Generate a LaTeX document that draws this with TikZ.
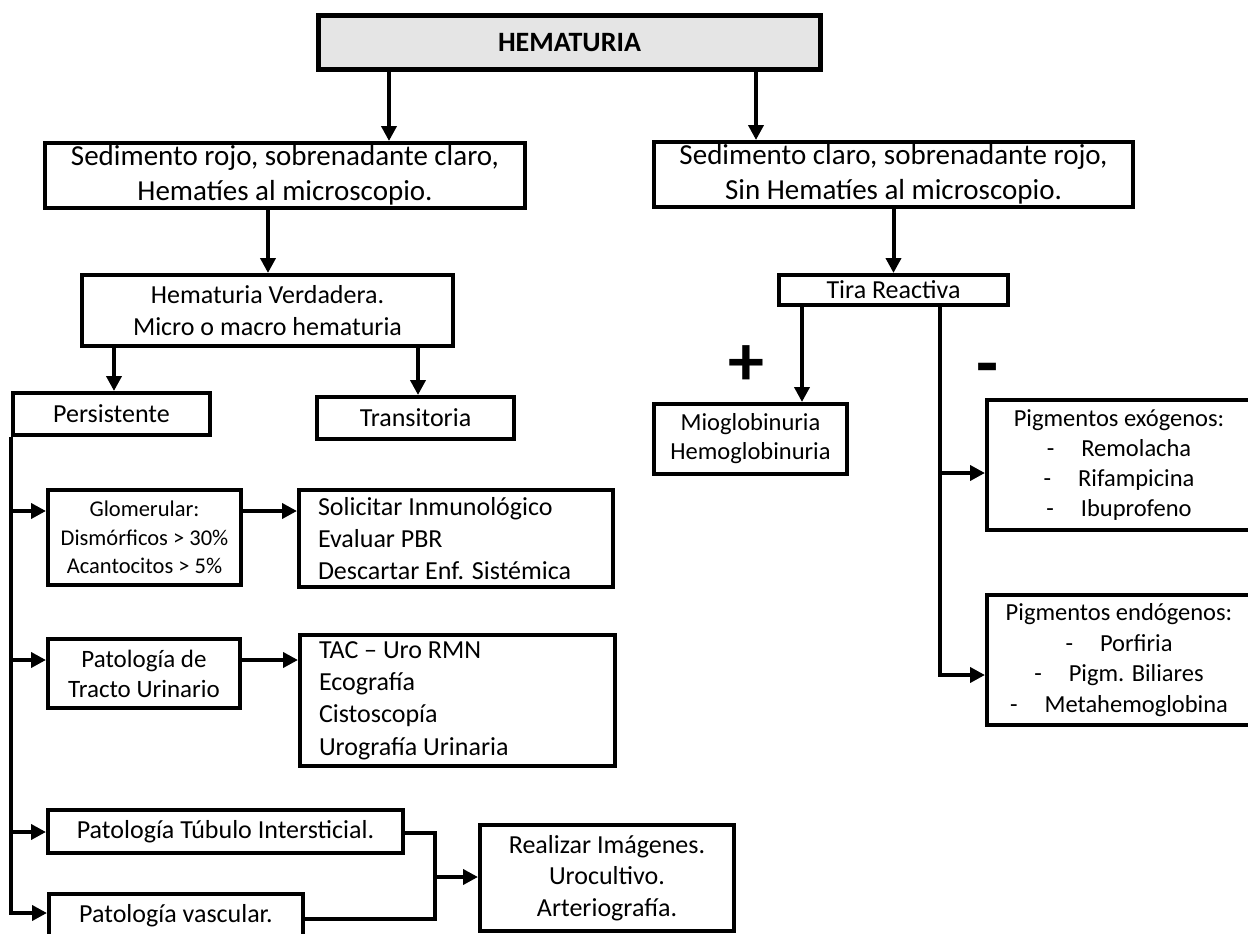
\documentclass[tikz,border=0pt]{standalone}
\usepackage{fontspec}
\setmainfont{Carlito}
\usetikzlibrary{arrows.meta}

\begin{document}
\begin{tikzpicture}[x=1pt,y=-1pt,
  box/.style={draw, line width=4pt, inner sep=0pt, align=center,
              font=\fontsize{26}{31.5}\selectfont},
  bigtxt/.style={font=\fontsize{29}{35}\selectfont},
  conn/.style={line width=4pt},
  arr/.style={line width=4pt, -{Triangle[length=15pt,width=15pt]}},
  sign/.style={font=\bfseries\fontsize{72}{72}\selectfont, inner sep=0pt}
]
\useasboundingbox (0,0) rectangle (1248,934);

% title
\node[box, fill=black!10, line width=5pt, font=\bfseries\fontsize{28}{32}\selectfont,
      minimum width=502pt, minimum height=54pt] (hem) at (569.5,42.5) {HEMATURIA};

% first level
\node[box, bigtxt, minimum width=480pt, minimum height=65pt] (sedr) at (285,175.5)
  {Sedimento rojo, sobrenadante claro,\\Hematíes al microscopio.};
\node[box, bigtxt, minimum width=479pt, minimum height=65pt] (sedc) at (893.5,174.5)
  {Sedimento claro, sobrenadante rojo,\\Sin Hematíes al microscopio.};

% left branch
\node[box, minimum width=371pt, minimum height=71pt] (hv) at (267.5,310.5)
  {Hematuria Verdadera.\\Micro o macro hematuria};
\node[box, minimum width=197pt, minimum height=42pt] (pers) at (111.5,414) {Persistente};
\node[box, minimum width=197pt, minimum height=42pt] (trans) at (415.5,418) {Transitoria};

\node[box, font=\fontsize{22.5}{28.5}\selectfont, minimum width=193pt, minimum height=95pt]
  (glom) at (144.5,537.5) {Glomerular:\\Dismórficos > 30\%\\Acantocitos > 5\%};
\node[box, align=flush left, text width=276pt, inner xsep=19pt, minimum height=97pt,
      font=\fontsize{26}{32}\selectfont] (soli) at (456,538.5)
  {Solicitar Inmunológico\\Evaluar PBR\\Descartar Enf. Sistémica};

\node[box, font=\fontsize{25}{30}\selectfont, minimum width=192pt, minimum height=69pt]
  (ptu) at (144,673.5) {Patología de\\Tracto Urinario};
\node[box, align=flush left, text width=277pt, inner xsep=19pt, minimum height=131pt,
      font=\fontsize{26}{32.3}\selectfont] (tac) at (457.5,700.5)
  {TAC – Uro RMN\\Ecografía\\Cistoscopía\\Urografía Urinaria};

\node[box, minimum width=355pt, minimum height=43pt] (ptub) at (225.5,831.5)
  {Patología Túbulo Intersticial.};
\node[box, minimum width=254pt, minimum height=44pt] (pvas) at (176,916)
  {Patología vascular.};
\node[box, minimum width=254pt, minimum height=106pt] (real) at (607,878)
  {Realizar Imágenes.\\Urocultivo.\\Arteriografía.};

% right branch
\node[box, minimum width=229pt, minimum height=30pt] (tira) at (893.5,290) {Tira Reactiva};
\node[box, font=\fontsize{24.5}{29}\selectfont, minimum width=193pt, minimum height=70pt]
  (miog) at (750.5,439) {Mioglobinuria\\Hemoglobinuria};
\node[box, font=\fontsize{24.5}{30.3}\selectfont, minimum width=264pt, minimum height=130pt]
  (pexo) at (1119,465)
  {Pigmentos exógenos:\\-\hspace{27pt}Remolacha\\-\hspace{27pt}Rifampicina\\-\hspace{27pt}Ibuprofeno};
\node[box, font=\fontsize{24.5}{30.7}\selectfont, minimum width=264pt, minimum height=130pt]
  (pendo) at (1119,660)
  {Pigmentos endógenos:\\-\hspace{27pt}Porfiria\\-\hspace{27pt}Pigm. Biliares\\-\hspace{27pt}Metahemoglobina};

\node[sign] (plus) at (746,366) {+};
\node[sign] (minus) at (988,375) {-};

% connectors, top part
\draw[arr] (389,0 |- hem.south) -- (389,0 |- sedr.north);
\draw[arr] (756,0 |- hem.south) -- (756,0 |- sedc.north);
\draw[arr] (268,0 |- sedr.south) -- (268,0 |- hv.north);
\draw[arr] (sedc.south) -- (tira.north);
\draw[arr] (114,0 |- hv.south) -- (114,0 |- pers.north);
\draw[arr] (418,0 |- hv.south) -- (418,0 |- trans.north);

% connectors from the test strip
\draw[arr] (802,0 |- tira.south) -- (802,0 |- miog.north);
\draw[arr] (940,0 |- tira.south) |- (pendo.west |- 0,675);
\coordinate (tb) at (940,473);
\draw[arr] (tb) -- (pexo.west |- tb);

% persistent haematuria branches
\draw[arr] (pers.south west) |- (pvas.west |- 0,913);
\draw[arr] (pers.west |- 0,511) -- (glom.west |- 0,511);
\draw[arr] (pers.west |- 0,660) -- (ptu.west |- 0,660);
\draw[arr] (pers.west |- 0,832) -- (ptub.west |- 0,832);
\draw[arr] (glom.east |- 0,511) -- (soli.west |- 0,511);
\draw[arr] (ptu.east |- 0,660) -- (tac.west |- 0,660);

% joint branch to imaging
\coordinate (jn) at (435,877);
\draw[conn] (ptub.east |- 0,833) -| (jn |- 0,919) -- (pvas.east |- 0,919);
\draw[arr] (jn) -- (real.west |- jn);

\end{tikzpicture}
\end{document}
